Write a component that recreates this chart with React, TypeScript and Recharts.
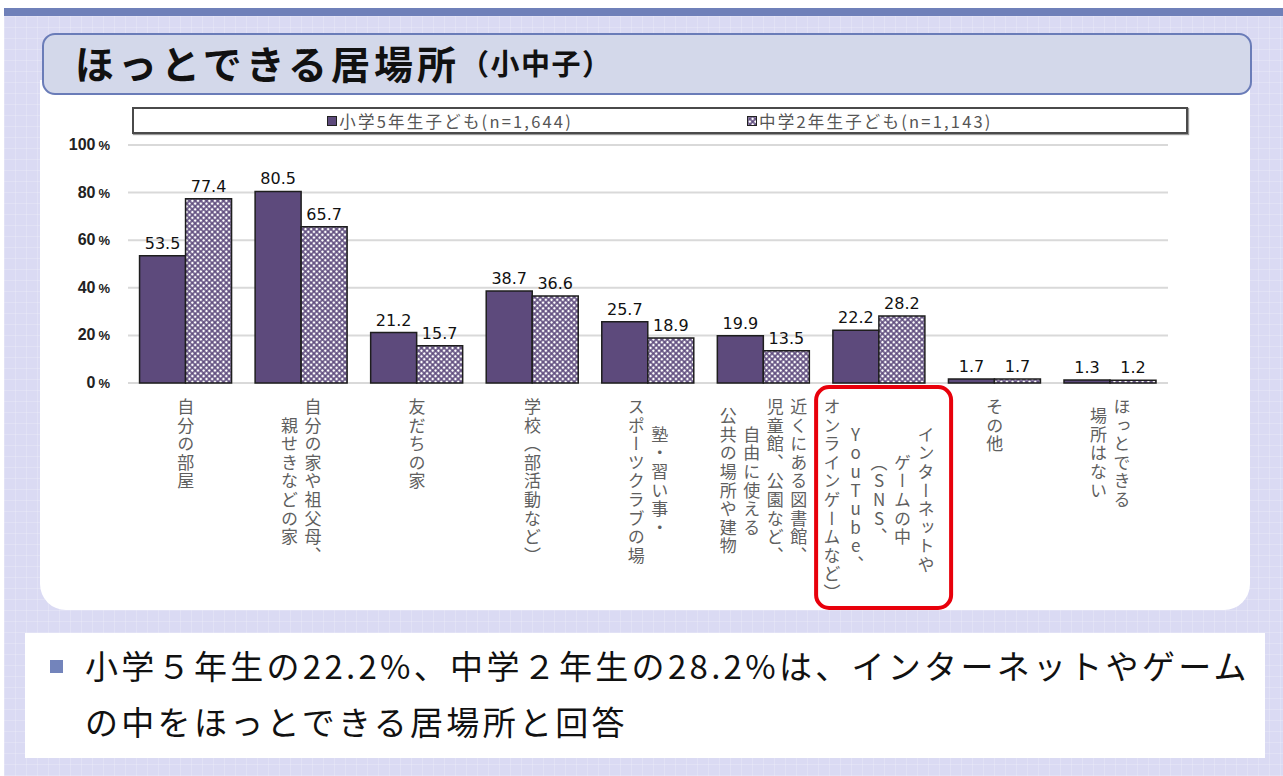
import React from 'react';
import { BarChart, Bar, XAxis, YAxis, CartesianGrid, Legend, LabelList } from 'recharts';

const categories = [
    '自分の部屋',
    '自分の家や祖父母、親せきなどの家',
    '友だちの家',
    '学校（部活動など）',
    '塾・習い事・スポーツクラブの場',
    '近くにある図書館、児童館、公園など、自由に使える公共の場所や建物',
    'インターネットやゲームの中（SNS、YouTube、オンラインゲームなど）',
    'その他',
    'ほっとできる場所はない',
];

// vertical label columns, right to left
const tickLines = [
    ['自分の部屋'],
    ['自分の家や祖父母、', '親せきなどの家'],
    ['友だちの家'],
    ['学校（部活動など）'],
    ['塾・習い事・', 'スポーツクラブの場'],
    ['近くにある図書館、', '児童館、公園など、', '自由に使える', '公共の場所や建物'],
    ['インターネットや', 'ゲームの中', '（SNS、', 'YouTube、', 'オンラインゲームなど）'],
    ['その他'],
    ['ほっとできる', '場所はない'],
];

const elementary = [53.5, 80.5, 21.2, 38.7, 25.7, 19.9, 22.2, 1.7, 1.3];
const juniorHigh = [77.4, 65.7, 15.7, 36.6, 18.9, 13.5, 28.2, 1.7, 1.2];
const seriesNames = ['小学5年生子ども(n=1,644)', '中学2年生子ども(n=1,143)'];
const yTicks = [0, 20, 40, 60, 80, 100];
const highlighted = 6;

const data = categories.map((name, i) => ({ name, elem: elementary[i], jhs: juniorHigh[i] }));

const JP = '"Noto Sans CJK JP", "Noto Sans", sans-serif';
const PURPLE = '#5d4a7c';

const XTick = (props: any) => {
    const { x, y, payload } = props;
    const idx = categories.indexOf(payload.value);
    const lines = tickLines[idx] || [payload.value];
    const adv = 18.6;
    const maxLen = Math.max(...lines.map((l) => [...l].length));
    const top = y + 15;
    const cy = top + (maxLen * adv) / 2;
    const colGap = 23.5;
    return (
        <g>
            {lines.map((line, i) => (
                <text
                    key={i}
                    x={x + ((lines.length - 1) / 2 - i) * colGap}
                    y={cy}
                    textAnchor="middle"
                    fontSize={17}
                    fill="#5f5f5f"
                    fontFamily={JP}
                    style={{ writingMode: 'vertical-rl', textOrientation: 'upright', letterSpacing: 1.6 } as any}
                >
                    {line}
                </text>
            ))}
            {idx === highlighted && (
                <rect x={x - 63} y={y + 4} width={135} height={221} rx={13} fill="none" stroke="#e8000b" strokeWidth={4} />
            )}
        </g>
    );
};

const YTick = (props: any) => {
    const { x, y, payload } = props;
    return (
        <text x={x} y={y} dy={5} textAnchor="end" fontSize={16} fill="#222" fontFamily='"Liberation Sans", sans-serif' fontWeight={600}>
            {payload.value}
            <tspan fontSize={13} dx={3}>%</tspan>
        </text>
    );
};

const renderLegend = (props: any) => {
    const payload = [...(props.payload || [])].sort(
        (a: any, b: any) => seriesNames.indexOf(a.value) - seriesNames.indexOf(b.value)
    );
    return (
        <div
            style={{
                boxSizing: 'border-box',
                width: 1056,
                height: 27,
                border: '2px solid #4a4a4a',
                boxShadow: '1px 1px 1px #999',
                background: '#fff',
                display: 'flex',
                justifyContent: 'center',
                alignItems: 'center',
                gap: 174,
                fontSize: 16.5,
                color: '#555',
                letterSpacing: 2.2,
                fontFamily: JP,
            }}
        >
            {payload.map((entry: any, i: number) => (
                <span key={i} style={{ display: 'flex', alignItems: 'center' }}>
                    <svg width={10} height={10} style={{ marginRight: 2 }}>
                        <rect x={0.5} y={0.5} width={9} height={9} fill={i === 0 ? PURPLE : 'url(#lattice)'} stroke="#222" />
                    </svg>
                    {entry.value}
                </span>
            ))}
        </div>
    );
};

export default function App() {
    return (
        <div
            style={{
                position: 'absolute',
                left: 0,
                top: 0,
                width: 1283,
                height: 776,
                overflow: 'hidden',
                background: '#fff',
                fontFamily: JP,
            }}
        >
            <svg width={0} height={0} style={{ position: 'absolute' }}>
                <defs>
                    <pattern id="lattice" width={4} height={4} patternUnits="userSpaceOnUse" patternTransform="rotate(45)">
                        <rect width={4} height={4} fill={PURPLE} />
                        <rect x={0.8} y={0.8} width={2.4} height={2.4} fill="#fff" />
                    </pattern>
                </defs>
            </svg>
            {/* slide background */}
            <div
                style={{
                    position: 'absolute',
                    left: 4,
                    top: 16,
                    right: 0,
                    bottom: 0,
                    backgroundColor: '#dadaf3',
                    backgroundImage:
                        'linear-gradient(rgba(255,255,255,0.18) 1px, transparent 1px), linear-gradient(90deg, rgba(255,255,255,0.18) 1px, transparent 1px)',
                    backgroundSize: '11px 11px',
                }}
            />
            <div style={{ position: 'absolute', left: 4, top: 8, right: 0, height: 8, background: '#6f80b9' }} />
            <div
                style={{
                    position: 'absolute',
                    left: 40,
                    top: 80,
                    width: 1210,
                    height: 530,
                    background: '#fff',
                    borderBottomLeftRadius: 26,
                    borderBottomRightRadius: 26,
                }}
            />
            <div
                style={{
                    position: 'absolute',
                    left: 42,
                    top: 33,
                    width: 1210,
                    height: 62,
                    boxSizing: 'border-box',
                    border: '2px solid #6a7cb8',
                    borderRadius: 13,
                    background: '#d3d8ea',
                    display: 'flex',
                    alignItems: 'center',
                    paddingLeft: 31,
                    paddingBottom: 4,
                    fontWeight: 700,
                    color: '#111',
                }}
            >
                <span style={{ fontSize: 39, letterSpacing: 4 }}>ほっとできる居場所</span>
                <span style={{ fontSize: 29, letterSpacing: 1.5, marginLeft: 0 }}>（小中子）</span>
            </div>
            <div
                style={{
                    position: 'absolute',
                    left: 25,
                    top: 633,
                    width: 1240,
                    height: 125,
                    background: '#fff',
                }}
            >
                <div style={{ position: 'absolute', left: 25, top: 27, width: 13, height: 13, background: '#7384bb' }} />
                <div
                    style={{
                        position: 'absolute',
                        left: 60,
                        top: 4,
                        fontSize: 33,
                        lineHeight: '56px',
                        letterSpacing: 3.3,
                        color: '#111',
                        whiteSpace: 'nowrap',
                    }}
                >
                    <div>小学５年生の22.2%、中学２年生の28.2%は、インターネットやゲーム</div>
                    <div>の中をほっとできる居場所と回答</div>
                </div>
            </div>
            <div style={{ position: 'absolute', left: 0, top: 0 }}>
                <BarChart
                    width={1283}
                    height={776}
                    data={data}
                    margin={{ top: 145, right: 115, left: 0, bottom: 0 }}
                    barCategoryGap="10%"
                    barGap={0}
                >
                    <CartesianGrid vertical={false} stroke="#d9d9d9" strokeWidth={2} />
                    <XAxis
                        dataKey="name"
                        interval={0}
                        height={393}
                        axisLine={false}
                        tickLine={false}
                        tickSize={0}
                        tickMargin={0}
                        tick={<XTick />}
                    />
                    <YAxis
                        domain={[0, 100]}
                        ticks={yTicks}
                        width={128}
                        axisLine={false}
                        tickLine={false}
                        tickSize={0}
                        tickMargin={18}
                        tick={<YTick />}
                    />
                    <Legend
                        verticalAlign="middle"
                        align="center"
                        wrapperStyle={{ top: 107, left: 132, width: 1056 }}
                        content={renderLegend}
                    />
                    <Bar dataKey="elem" name={seriesNames[0]} fill={PURPLE} stroke="#1e1e1e" strokeWidth={1.5} isAnimationActive={false}>
                        <LabelList dataKey="elem" position="top" offset={7} fontSize={16} fill="#111" fontFamily='"DejaVu Sans", sans-serif' />
                    </Bar>
                    <Bar dataKey="jhs" name={seriesNames[1]} fill="url(#lattice)" stroke="#1e1e1e" strokeWidth={1.5} isAnimationActive={false}>
                        <LabelList dataKey="jhs" position="top" offset={7} fontSize={16} fill="#111" fontFamily='"DejaVu Sans", sans-serif' />
                    </Bar>
                </BarChart>
            </div>
        </div>
    );
}
